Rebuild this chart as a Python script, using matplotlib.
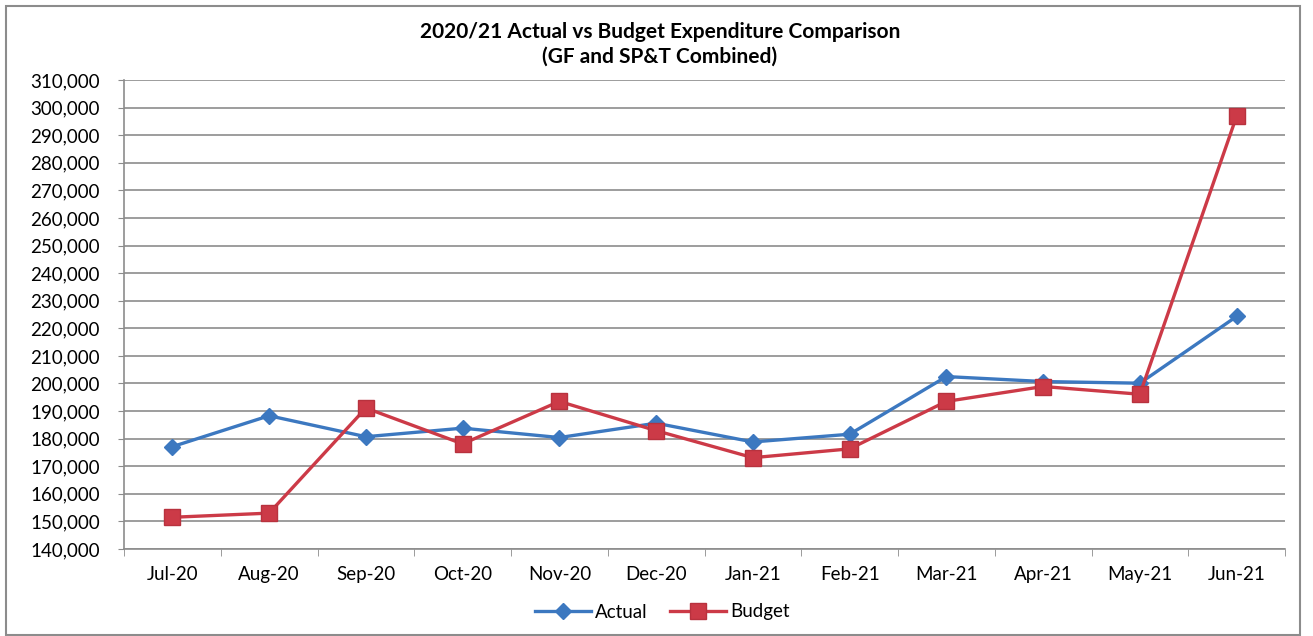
import numpy as np
import matplotlib
matplotlib.use("Agg")
import matplotlib.pyplot as plt
from matplotlib.patches import Rectangle
from matplotlib.ticker import FuncFormatter, MultipleLocator

months = ["Jul-20", "Aug-20", "Sep-20", "Oct-20", "Nov-20", "Dec-20",
          "Jan-21", "Feb-21", "Mar-21", "Apr-21", "May-21", "Jun-21"]
actual = [177100, 188300, 180700, 183800, 180400, 185600,
          178800, 181600, 202500, 200700, 200100, 224300]
budget = [151500, 153000, 191100, 178100, 193500, 182900,
          173100, 176300, 193500, 198900, 196100, 296900]

plt.rcParams['font.family'] = ['Lato', 'DejaVu Sans']

fig = plt.figure(figsize=(13.13, 6.36), dpi=100)
ax = fig.add_axes([124/1313, 1-549/636, (1285-124)/1313, (549-80)/636])

x = np.arange(len(months))
ax.plot(x, actual, color="#3C78C0", lw=2.4, marker="D", ms=8,
        markeredgecolor="#3C78C0", label="Actual", zorder=3)
ax.plot(x, budget, color="#CC3A47", lw=2.4, marker="s", ms=11,
        markeredgecolor="#B8323E", markerfacecolor="#CC3A47", label="Budget", zorder=3)

ax.set_xlim(-0.5, len(months) - 0.5)
ax.set_ylim(140000, 310000)
ax.yaxis.set_major_locator(MultipleLocator(10000))
ax.yaxis.set_major_formatter(FuncFormatter(lambda v, p: f"{int(v):,}"))
ax.yaxis.grid(True, color="#8C8C8C", lw=1.2)
ax.set_axisbelow(True)

# category labels centered, tick marks between categories
ax.set_xticks(x)
ax.set_xticklabels(months)
ax.set_xticks(np.arange(-0.5, len(months)), minor=True)
ax.tick_params(axis="x", which="major", length=0, pad=12, labelsize=13.5)
ax.tick_params(axis="x", which="minor", length=5, color="#8C8C8C", direction="out")
ax.tick_params(axis="y", length=4.5, color="#8C8C8C", direction="out", labelsize=13.5, pad=13)

for s in ["top", "right"]:
    ax.spines[s].set_visible(False)
for s in ["left", "bottom"]:
    ax.spines[s].set_color("#8C8C8C")
    ax.spines[s].set_linewidth(1.2)

fig.text(660/1313, 1-32/636, "2020/21 Actual vs Budget Expenditure Comparison",
         ha="center", va="center", fontsize=15, fontweight="bold")
fig.text(660/1313, 1-57/636, "(GF and SP&T Combined)",
         ha="center", va="center", fontsize=15, fontweight="bold")

fig.legend(loc="center", bbox_to_anchor=(662/1313, 1-612/636), ncol=2, frameon=False,
           fontsize=13.5, handlelength=3, handletextpad=0.2, columnspacing=1.2)

fig.patches.append(Rectangle((6/1313, 0.002), 1294/1313, 1-6/636 - 0.002,
                             transform=fig.transFigure, fill=False,
                             edgecolor="#8C8C8C", lw=1.5))

fig.savefig("out.png", dpi=100)
